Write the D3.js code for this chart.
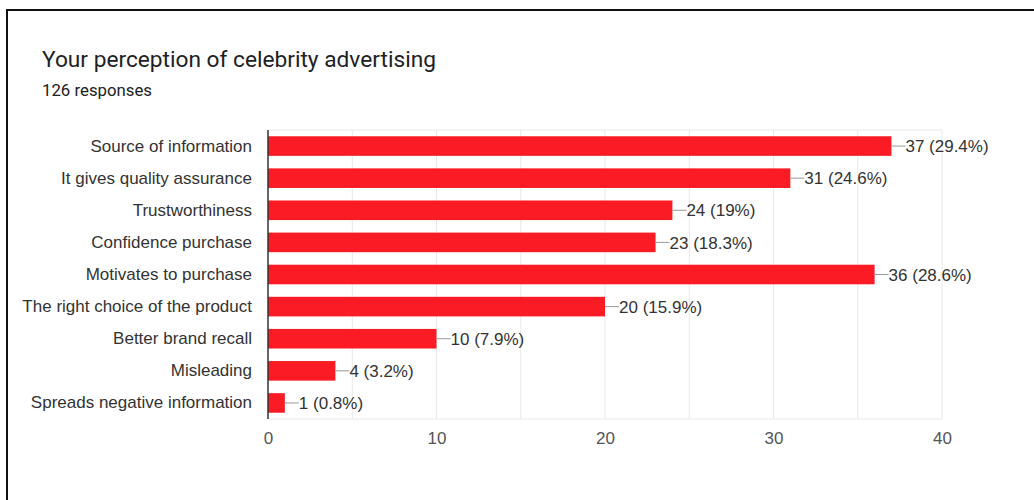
<!DOCTYPE html>
<html>
<head>
<meta charset="utf-8">
<script src="https://cdn.jsdelivr.net/npm/d3@7"></script>
<style>
  html, body { margin: 0; padding: 0; background: #fff; }
  svg { display: block; }
</style>
</head>
<body>
<svg id="chart" width="1034" height="500"></svg>
<script>
// Survey answers: "Your perception of celebrity advertising"
const categories = [
  "Source of information",
  "It gives quality assurance",
  "Trustworthiness",
  "Confidence purchase",
  "Motivates to purchase",
  "The right choice of the product",
  "Better brand recall",
  "Misleading",
  "Spreads negative information"
];
const counts = [37, 31, 24, 23, 36, 20, 10, 4, 1];
const percents = ["29.4%", "24.6%", "19%", "18.3%", "28.6%", "15.9%", "7.9%", "3.2%", "0.8%"];
const xTicks = [0, 10, 20, 30, 40];
const gridValues = [5, 10, 15, 20, 25, 30, 35, 40];
const totalResponses = 126;

const svg = d3.select("#chart");
const W = 1034, H = 500;

// frame lines (top and left)
svg.append("line").attr("x1", 6).attr("x2", W).attr("y1", 10).attr("y2", 10)
  .attr("stroke", "#111").attr("stroke-width", 2);
svg.append("line").attr("x1", 7).attr("x2", 7).attr("y1", 9).attr("y2", H)
  .attr("stroke", "#111").attr("stroke-width", 2);

// heading
svg.append("text").attr("x", 42).attr("y", 67)
  .attr("font-family", "Roboto, 'Noto Sans', sans-serif")
  .attr("font-size", 22.7).attr("fill", "#202124")
  .text("Your perception of celebrity advertising");
svg.append("text").attr("x", 42).attr("y", 96)
  .attr("font-family", "Roboto, 'Noto Sans', sans-serif")
  .attr("font-size", 16.8).attr("fill", "#202124")
  .text(totalResponses + " responses");

const plot = { left: 268, right: 942, top: 130, bottom: 419 };

const x = d3.scaleLinear().domain([0, 40]).range([plot.left, plot.right]);
const y = d3.scaleBand().domain(categories).range([plot.top, plot.bottom]).paddingInner(0.39).paddingOuter(0.195);

const chartFont = "'Liberation Sans', Arial, sans-serif";
const g = svg.append("g");

// vertical gridlines
g.selectAll("line.grid").data(gridValues).join("line")
  .attr("class", "grid")
  .attr("x1", d => x(d)).attr("x2", d => x(d))
  .attr("y1", plot.top).attr("y2", plot.bottom)
  .attr("stroke", "#e8e8e8").attr("stroke-width", 1);
// top and bottom frame of plot area
g.append("line").attr("x1", plot.left).attr("x2", plot.right)
  .attr("y1", plot.top).attr("y2", plot.top).attr("stroke", "#e8e8e8");
g.append("line").attr("x1", plot.left).attr("x2", plot.right)
  .attr("y1", plot.bottom).attr("y2", plot.bottom).attr("stroke", "#e8e8e8");

// bars
g.selectAll("rect.bar").data(categories).join("rect")
  .attr("class", "bar")
  .attr("x", x(0))
  .attr("y", d => y(d))
  .attr("width", (d, i) => x(counts[i]) - x(0))
  .attr("height", y.bandwidth())
  .attr("fill", "#fa1b24");

// value annotations with short leader lines
const ann = g.selectAll("g.ann").data(categories).join("g").attr("class", "ann");
ann.append("line")
  .attr("x1", (d, i) => x(counts[i]))
  .attr("x2", (d, i) => x(counts[i]) + 14)
  .attr("y1", d => y(d) + y.bandwidth() / 2)
  .attr("y2", d => y(d) + y.bandwidth() / 2)
  .attr("stroke", "#999").attr("stroke-width", 1);
ann.append("text")
  .attr("x", (d, i) => x(counts[i]) + 14)
  .attr("y", d => y(d) + y.bandwidth() / 2)
  .attr("dy", "0.36em")
  .attr("font-family", chartFont).attr("font-size", 17).attr("fill", "#333")
  .text((d, i) => counts[i] + " (" + percents[i] + ")");

// category axis
const yAxis = g.append("g").attr("transform", `translate(${plot.left},0)`)
  .call(d3.axisLeft(y).tickSize(0).tickPadding(16));
yAxis.select(".domain").remove();
yAxis.selectAll("text")
  .attr("font-family", chartFont).attr("font-size", 17).attr("fill", "#333");

// baseline
g.append("line").attr("x1", x(0)).attr("x2", x(0))
  .attr("y1", plot.top).attr("y2", plot.bottom)
  .attr("stroke", "#333").attr("stroke-width", 1.5);

// value axis
const xAxis = g.append("g").attr("transform", `translate(0,${plot.bottom})`)
  .call(d3.axisBottom(x).tickValues(xTicks).tickSize(0).tickPadding(13));
xAxis.select(".domain").remove();
xAxis.selectAll("text")
  .attr("font-family", chartFont).attr("font-size", 17).attr("fill", "#555");
</script>
</body>
</html>
